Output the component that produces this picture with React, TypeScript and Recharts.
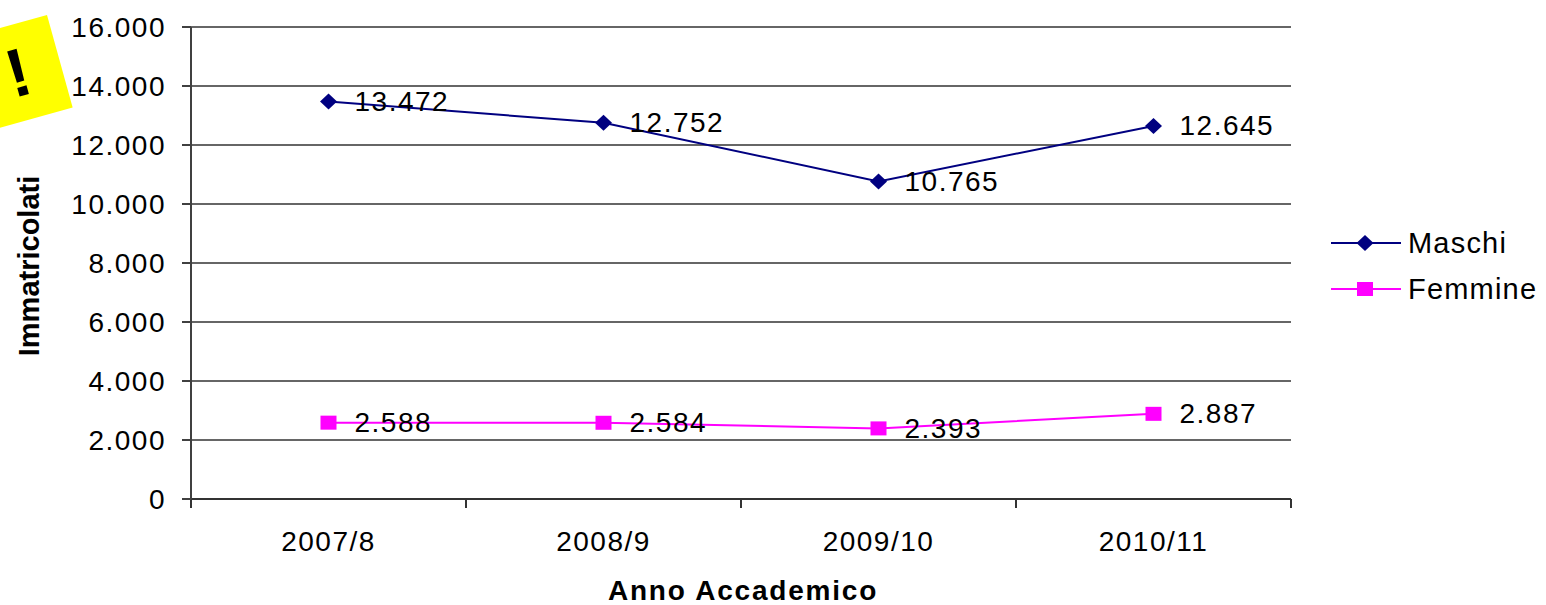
import React from "react";
import {
  LineChart,
  Line,
  XAxis,
  YAxis,
  CartesianGrid,
  LabelList,
  Label,
  Legend,
} from "recharts";

const anni = ["2007/8", "2008/9", "2009/10", "2010/11"];
const maschi = [13472, 12752, 10765, 12645];
const femmine = [2588, 2584, 2393, 2887];
const yTicks = [0, 2000, 4000, 6000, 8000, 10000, 12000, 14000, 16000];

const FONT = "'Liberation Sans', Arial, Helvetica, sans-serif";

// one x unit per academic year: points sit at the middle of each band
const data = anni.map((anno, i) => ({
  anno,
  pos: i + 0.5,
  maschi: maschi[i],
  femmine: femmine[i],
}));
const bordi = [...anni.map((_, i) => i), anni.length];

const serie = [
  { key: "maschi", name: "Maschi", color: "#000080", shape: "diamond" },
  { key: "femmine", name: "Femmine", color: "#FF00FF", shape: "square" },
];

// Italian thousands separator
const fmt = (v: number) =>
  String(Math.round(v)).replace(/\B(?=(\d{3})+(?!\d))/g, ".");

function Marker({ cx, cy, color, shape }: any) {
  if (shape === "diamond") {
    return (
      <polygon
        points={`${cx},${cy - 8} ${cx + 8.5},${cy} ${cx},${cy + 8} ${cx - 8.5},${cy}`}
        fill={color}
      />
    );
  }
  return <rect x={cx - 8} y={cy - 7} width={16} height={14} fill={color} />;
}

const ValueLabel = (p: any) => (
  <text
    x={p.x + 26}
    y={p.y}
    dominantBaseline="central"
    fontSize={28}
    letterSpacing={1.5}
    fontFamily={FONT}
    fill="#000"
  >
    {fmt(p.value)}
  </text>
);

const YTitle = ({ viewBox }: any) => {
  const x = viewBox.x + 29;
  const y = viewBox.y + viewBox.height / 2 + 3;
  return (
    <text
      x={x}
      y={y}
      transform={`rotate(-90, ${x}, ${y})`}
      textAnchor="middle"
      dominantBaseline="central"
      fontSize={29}
      fontWeight="bold"
      fontFamily={FONT}
      fill="#000"
    >
      Immatricolati
    </text>
  );
};

const XTitle = ({ viewBox }: any) => (
  <text
    x={viewBox.x + viewBox.width / 2 + 2}
    y={viewBox.y + viewBox.height - 5}
    textAnchor="middle"
    fontSize={28}
    fontWeight="bold"
    letterSpacing={1.8}
    fontFamily={FONT}
    fill="#000"
  >
    Anno Accademico
  </text>
);

const LegendBox = () => (
  <div style={{ fontFamily: FONT }}>
    {serie.map((s) => (
      <div
        key={s.key}
        style={{ display: "flex", alignItems: "center", height: 46 }}
      >
        <svg width={70} height={20}>
          <line x1={0} x2={70} y1={10} y2={10} stroke={s.color} strokeWidth={2} />
          <Marker cx={34} cy={10} color={s.color} shape={s.shape} />
        </svg>
        <span style={{ marginLeft: 7, fontSize: 29, letterSpacing: 1.2, color: "#000" }}>
          {s.name}
        </span>
      </div>
    ))}
  </div>
);

const tickStyle = { fontSize: 28, fill: "#000", fontFamily: FONT, letterSpacing: 1.5 };

export default function App() {
  return (
    <div style={{ position: "absolute", left: 0, top: 0, width: 1546, height: 605, background: "#fff" }}>
      <LineChart
        width={1546}
        height={605}
        data={data}
        margin={{ top: 27, right: 255, bottom: 0, left: 0 }}
      >
        <CartesianGrid vertical={false} stroke="#333" strokeWidth={1.5} />
        <XAxis
          type="number"
          dataKey="pos"
          domain={[0, anni.length]}
          ticks={bordi}
          interval={0}
          tickFormatter={() => ""}
          tickSize={9}
          height={10}
          axisLine={{ stroke: "#333", strokeWidth: 2 }}
          tickLine={{ stroke: "#333", strokeWidth: 2 }}
        />
        <XAxis
          xAxisId="cat"
          type="number"
          dataKey="pos"
          domain={[0, anni.length]}
          ticks={data.map((d) => d.pos)}
          interval={0}
          tickFormatter={(v: number) => anni[Math.floor(v)]}
          axisLine={false}
          tickLine={false}
          tickSize={0}
          tickMargin={22}
          height={96}
          tick={tickStyle}
        >
          <Label content={XTitle} />
        </XAxis>
        <XAxis
          xAxisId="top"
          orientation="top"
          type="number"
          domain={[0, anni.length]}
          height={0}
          tick={false}
          tickLine={false}
          axisLine={{ stroke: "#8c8c8c", strokeWidth: 2 }}
        />
        <YAxis
          width={191}
          domain={[0, 16000]}
          ticks={yTicks}
          interval={0}
          tickFormatter={fmt}
          tickSize={9}
          tickMargin={16}
          axisLine={{ stroke: "#404040", strokeWidth: 2 }}
          tickLine={{ stroke: "#404040", strokeWidth: 2 }}
          tick={tickStyle}
        >
          <Label content={YTitle} />
        </YAxis>
        <YAxis
          yAxisId="right"
          orientation="right"
          width={0}
          domain={[0, 16000]}
          tick={false}
          tickLine={false}
          axisLine={{ stroke: "#8c8c8c", strokeWidth: 2 }}
        />
        {serie.map((s) => (
          <Line
            key={s.key}
            dataKey={s.key}
            name={s.name}
            type="linear"
            stroke={s.color}
            strokeWidth={2}
            isAnimationActive={false}
            dot={(p: any) => (
              <Marker key={`${s.key}-${p.index}`} cx={p.cx} cy={p.cy} color={s.color} shape={s.shape} />
            )}
            activeDot={false}
          >
            <LabelList dataKey={s.key} content={ValueLabel} />
          </Line>
        ))}
        <Legend
          layout="vertical"
          align="center"
          verticalAlign="middle"
          wrapperStyle={{ left: 1331, top: 220, width: 215 }}
          content={() => <LegendBox />}
        />
      </LineChart>
      {/* yellow sticky note in the top-left corner */}
      <svg
        width={120}
        height={150}
        style={{ position: "absolute", left: 0, top: 0, pointerEvents: "none" }}
      >
        <rect x={47 - 90} y={15} width={90} height={96} fill="#FFFF00" transform="rotate(-15.5, 47, 15)" />
        <text
          x={18}
          y={72}
          textAnchor="middle"
          dominantBaseline="central"
          fontSize={68}
          fontWeight="bold"
          fontFamily={FONT}
          fill="#000"
          transform="rotate(-15.5, 18, 72)"
        >
          !
        </text>
      </svg>
    </div>
  );
}
